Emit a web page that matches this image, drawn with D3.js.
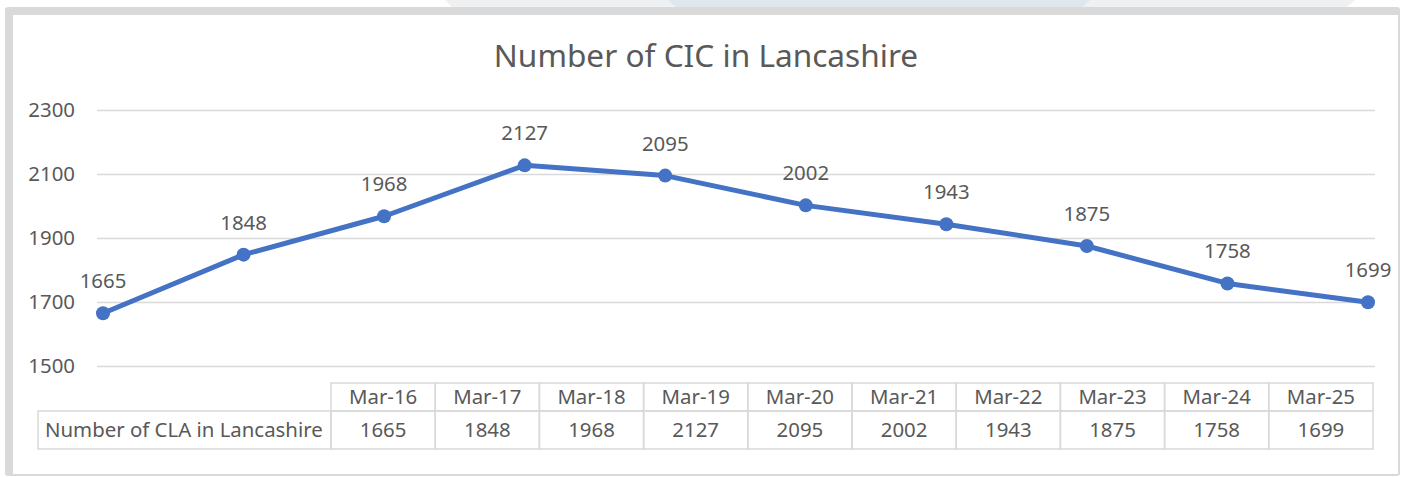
<!DOCTYPE html>
<html>
<head>
<meta charset="utf-8">
<script src="https://cdn.jsdelivr.net/npm/d3@7"></script>
<style>
  html, body { margin: 0; padding: 0; background: #fff; }
  svg { display: block; font-family: "Noto Sans", "Open Sans", sans-serif; }
</style>
</head>
<body>
<svg id="chart" width="1401" height="477"></svg>
<script>
// Data
const categories = ["Mar-16", "Mar-17", "Mar-18", "Mar-19", "Mar-20", "Mar-21", "Mar-22", "Mar-23", "Mar-24", "Mar-25"];
const claValues = [1665, 1848, 1968, 2127, 2095, 2002, 1943, 1875, 1758, 1699];
const yTicks = [1500, 1700, 1900, 2100, 2300];
const seriesName = "Number of CLA in Lancashire";
const chartTitle = "Number of CIC in Lancashire";

const svg = d3.select("#chart");
const textColor = "#595959";
const gridColor = "#d9d9d9";
const lineColor = "#4472c4";
const smallFont = 20.4;

// faint page background shapes above the frame
svg.append("path")
    .attr("d", "M445,0 L1355,0 L1347,7 L452,7 Z")
    .attr("fill", "#eef0f2");
svg.append("path")
    .attr("d", "M668,0 L1090,0 L1082,7 L676,7 Z")
    .attr("fill", "#dfe6ec");

// chart frame: thick grey top/left, thin right/bottom
svg.append("rect")
    .attr("x", 5).attr("y", 7)
    .attr("width", 1395).attr("height", 469)
    .attr("rx", 3)
    .attr("fill", gridColor);
svg.append("rect")
    .attr("x", 13).attr("y", 15)
    .attr("width", 1385).attr("height", 459)
    .attr("fill", "#fff");

// Scales
const plotLeft = 97, plotRight = 1375;
const xScale = d3.scalePoint()
    .domain(categories)
    .range([103, 1368]);

const yScale = d3.scaleLinear()
    .domain([1500, 2300])
    .range([366, 110]);

// Title
svg.append("text")
    .attr("x", 706)
    .attr("y", 67)
    .attr("text-anchor", "middle")
    .attr("fill", textColor)
    .attr("font-size", 31.6)
    .text(chartTitle);

// Y axis with gridlines
const yAxis = d3.axisLeft(yScale)
    .tickValues(yTicks)
    .tickFormat(d3.format("d"))
    .tickSize(-(plotRight - plotLeft))
    .tickPadding(22);

const yG = svg.append("g")
    .attr("class", "y axis")
    .attr("transform", `translate(${plotLeft}, 0)`)
    .call(yAxis);

yG.select(".domain").remove();
yG.selectAll(".tick line")
    .attr("stroke", gridColor)
    .attr("stroke-width", 1.5);
yG.selectAll(".tick text")
    .attr("fill", textColor)
    .attr("font-size", smallFont)
    .attr("font-family", "Noto Sans, sans-serif");

// Line
const points = categories.map((c, i) => ({ cat: c, value: claValues[i] }));

const lineGenerator = d3.line()
    .x(d => xScale(d.cat))
    .y(d => yScale(d.value));

svg.append("path")
    .datum(points)
    .attr("fill", "none")
    .attr("stroke", lineColor)
    .attr("stroke-width", 5)
    .attr("stroke-linejoin", "round")
    .attr("d", lineGenerator);

svg.selectAll(".marker")
    .data(points)
    .join("circle")
    .attr("class", "marker")
    .attr("cx", d => xScale(d.cat))
    .attr("cy", d => yScale(d.value))
    .attr("r", 7)
    .attr("fill", lineColor);

svg.selectAll(".data-label")
    .data(points)
    .join("text")
    .attr("class", "data-label")
    .attr("x", d => xScale(d.cat))
    .attr("y", d => yScale(d.value) - 25)
    .attr("text-anchor", "middle")
    .attr("fill", textColor)
    .attr("font-size", smallFont)
    .text(d => d.value);

// Data table below the plot
const colScale = d3.scaleBand()
    .domain(categories)
    .range([331, 1373]);

const headTop = 383, headBottom = 411, rowBottom = 449, labelLeft = 38;
const table = svg.append("g").attr("class", "data-table");

// header cells
table.selectAll(".head-cell")
    .data(categories)
    .join("rect")
    .attr("class", "head-cell")
    .attr("x", d => colScale(d))
    .attr("y", headTop)
    .attr("width", colScale.bandwidth())
    .attr("height", headBottom - headTop)
    .attr("fill", "none")
    .attr("stroke", gridColor)
    .attr("stroke-width", 1.5);

// value cells
table.selectAll(".value-cell")
    .data(categories)
    .join("rect")
    .attr("class", "value-cell")
    .attr("x", d => colScale(d))
    .attr("y", headBottom)
    .attr("width", colScale.bandwidth())
    .attr("height", rowBottom - headBottom)
    .attr("fill", "none")
    .attr("stroke", gridColor)
    .attr("stroke-width", 1.5);

// row label cell
table.append("rect")
    .attr("x", labelLeft)
    .attr("y", headBottom)
    .attr("width", colScale.range()[0] - labelLeft)
    .attr("height", rowBottom - headBottom)
    .attr("fill", "none")
    .attr("stroke", gridColor)
    .attr("stroke-width", 1.5);

table.selectAll(".head-text")
    .data(categories)
    .join("text")
    .attr("class", "head-text")
    .attr("x", d => colScale(d) + colScale.bandwidth() / 2)
    .attr("y", 404)
    .attr("text-anchor", "middle")
    .attr("fill", textColor)
    .attr("font-size", smallFont)
    .text(d => d);

table.selectAll(".value-text")
    .data(points)
    .join("text")
    .attr("class", "value-text")
    .attr("x", d => colScale(d.cat) + colScale.bandwidth() / 2)
    .attr("y", 437)
    .attr("text-anchor", "middle")
    .attr("fill", textColor)
    .attr("font-size", smallFont)
    .text(d => d.value);

table.append("text")
    .attr("x", 45)
    .attr("y", 437)
    .attr("fill", textColor)
    .attr("font-size", smallFont)
    .text(seriesName);
</script>
</body>
</html>
